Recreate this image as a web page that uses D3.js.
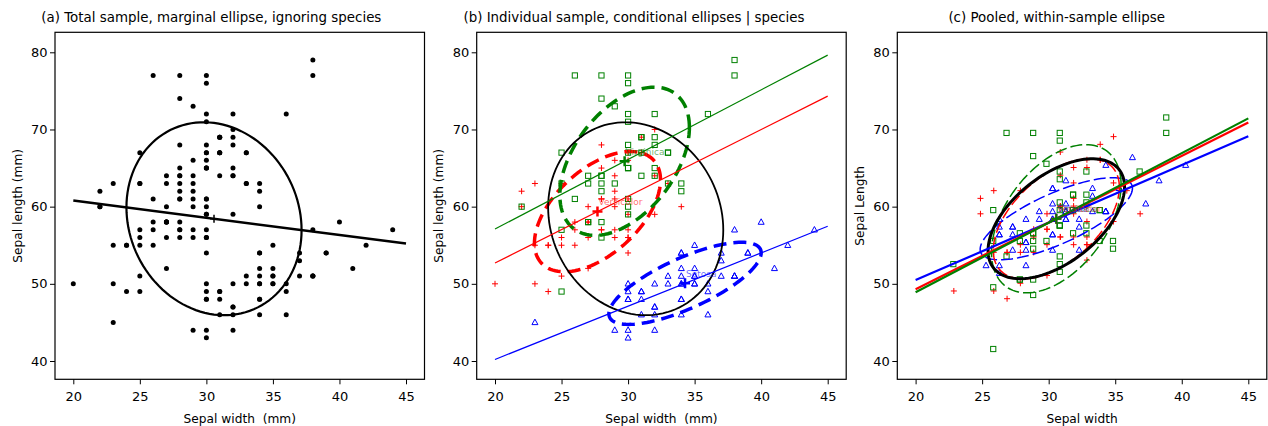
<!DOCTYPE html>
<html>
<head>
<meta charset="utf-8">
<script src="https://cdn.jsdelivr.net/npm/d3@7"></script>
<style>
  body { margin: 0; background: #fff; }
  svg { display: block; font-family: "DejaVu Sans", sans-serif; }
</style>
</head>
<body>
<div id="chart"></div>
<script>
// iris sepal measurements, in mm
var setosaLength = [51,49,47,46,50,54,46,50,44,49,54,48,48,43,58,57,54,51,57,51,54,51,46,51,48,50,50,52,52,47,48,54,52,55,49,50,55,49,44,51,50,45,44,50,51,48,51,46,53,50];
var setosaWidth  = [35,30,32,31,36,39,34,34,29,31,37,34,30,30,40,44,39,35,38,38,34,37,36,33,34,30,34,35,34,32,31,34,41,42,31,32,35,36,30,34,35,23,32,35,38,30,38,32,37,33];
var versicolorLength = [70,64,69,55,65,57,63,49,66,52,50,59,60,61,56,67,56,58,62,56,59,61,63,61,64,66,68,67,60,57,55,55,58,60,54,60,67,63,56,55,55,61,58,50,56,57,57,62,51,57];
var versicolorWidth  = [32,32,31,23,28,28,33,24,29,27,20,30,22,29,29,31,30,27,22,25,32,28,25,28,29,30,28,30,29,26,24,24,27,27,30,34,31,23,30,25,26,30,26,23,27,30,29,29,25,28];
var virginicaLength = [63,58,71,63,65,76,49,73,67,72,65,64,68,57,58,64,65,77,77,60,69,56,77,63,67,72,62,61,64,72,74,79,64,63,61,77,63,64,60,69,67,69,58,68,67,67,63,65,62,59];
var virginicaWidth  = [33,27,30,29,30,30,25,29,25,36,32,27,30,25,28,32,30,38,26,22,32,28,28,27,33,32,28,30,28,30,28,38,28,28,26,30,34,31,30,31,31,31,27,32,33,30,25,30,34,30];

var speciesNames = ["Setosa", "Versicolor", "Virginica"];
var speciesColors = ["#0000ff", "#ff0000", "#008000"];
var speciesShapes = ["triangle", "plus", "square"];

var xTicks = [20, 25, 30, 35, 40, 45];
var yTicks = [40, 50, 60, 70, 80];
var titles = [
  "(a) Total sample, marginal ellipse, ignoring species",
  "(b) Individual sample, conditional ellipses | species",
  "(c) Pooled, within-sample ellipse"
];
var xTitles = ["Sepal width  (mm)", "Sepal width  (mm)", "Sepal width"];
var yTitles = ["Sepal length (mm)", "Sepal length (mm)", "Sepal Length"];

var level = 0.68;
var radius = Math.sqrt(-2 * Math.log(1 - level));

var chartW = 1268, chartH = 426;
var frameLeft = [55, 476.7, 897.3];
var frameTop = 32.3, frameW = 369.5, frameH = 347;

var svg = d3.select("#chart").append("svg")
    .attr("width", chartW)
    .attr("height", chartH);

// ---- stats ----
function stats(xs, ys) {
  var n = xs.length;
  var mx = d3.mean(xs), my = d3.mean(ys);
  var sxx = 0, syy = 0, sxy = 0;
  for (var i = 0; i < n; i++) {
    sxx += (xs[i] - mx) * (xs[i] - mx);
    syy += (ys[i] - my) * (ys[i] - my);
    sxy += (xs[i] - mx) * (ys[i] - my);
  }
  return {n: n, mx: mx, my: my, ssx: sxx, ssy: syy, ssxy: sxy,
          sxx: sxx / (n - 1), syy: syy / (n - 1), sxy: sxy / (n - 1)};
}

var groups = [
  {x: setosaWidth, y: setosaLength},
  {x: versicolorWidth, y: versicolorLength},
  {x: virginicaWidth, y: virginicaLength}
];
groups.forEach(function(gr) { gr.s = stats(gr.x, gr.y); });

var allX = d3.merge(groups.map(function(gr) { return gr.x; }));
var allY = d3.merge(groups.map(function(gr) { return gr.y; }));
var total = stats(allX, allY);

// pooled within-group covariance
var nAll = allX.length;
var pooled = {
  mx: total.mx, my: total.my,
  sxx: d3.sum(groups, function(gr) { return gr.s.ssx; }) / (nAll - 3),
  syy: d3.sum(groups, function(gr) { return gr.s.ssy; }) / (nAll - 3),
  sxy: d3.sum(groups, function(gr) { return gr.s.ssxy; }) / (nAll - 3)
};

// centered data for panel (c); only points inside the x range are shown and fitted
groups.forEach(function(gr) {
  var pts = d3.zip(gr.x, gr.y).map(function(d) {
    return [d[0] - gr.s.mx + total.mx, d[1] - gr.s.my + total.my];
  }).filter(function(d) { return d[0] >= 20 && d[0] <= 45; });
  gr.centered = pts;
  gr.cs = stats(pts.map(function(d) { return d[0]; }), pts.map(function(d) { return d[1]; }));
});

function ellipsePoints(cx, cy, s) {
  var a = Math.sqrt(s.sxx);
  var b = s.sxy / a;
  var c = Math.sqrt(Math.max(s.syy - b * b, 0));
  return d3.range(0, 121).map(function(k) {
    var t = k / 120 * 2 * Math.PI;
    return [cx + radius * a * Math.cos(t),
            cy + radius * (b * Math.cos(t) + c * Math.sin(t))];
  });
}

// ---- drawing helpers ----
function marker(sel, shape, color) {
  if (shape === "square") {
    sel.append("rect").attr("x", -2.6).attr("y", -2.6).attr("width", 5.2).attr("height", 5.2)
      .attr("fill", "none").attr("stroke", color).attr("stroke-width", 1);
  } else if (shape === "triangle") {
    sel.append("path").attr("d", "M0,-3.3L3,2.2L-3,2.2Z")
      .attr("fill", "none").attr("stroke", color).attr("stroke-width", 1);
  } else {
    sel.append("path").attr("d", "M-3,0H3M0,-3V3")
      .attr("fill", "none").attr("stroke", color).attr("stroke-width", 1);
  }
}

function cross(sel, px, py, size, color, sw) {
  sel.append("path")
    .attr("d", "M" + (px - size) + "," + py + "H" + (px + size) + "M" + px + "," + (py - size) + "V" + (py + size))
    .attr("stroke", color).attr("stroke-width", sw).attr("fill", "none");
}

for (var p = 0; p < 3; p++) {
  var L = frameLeft[p];
  var xs = d3.scaleLinear().domain([20, 45]).range([L + 18.3, L + 351]);
  var ys = d3.scaleLinear().domain([40, 80]).range([361, 52.3]);
  var pg = svg.append("g");
  var segLine = d3.line()
      .x(function(d) { return xs(d[0]); })
      .y(function(d) { return ys(d[1]); });
  var ellLine = d3.line()
      .x(function(d) { return xs(d[0]); })
      .y(function(d) { return ys(d[1]); })
      .curve(d3.curveLinearClosed);

  // title
  svg.append("text")
    .attr("x", p * chartW / 3 + chartW / 6)
    .attr("y", 22)
    .attr("text-anchor", "middle")
    .attr("font-size", 13.4)
    .text(titles[p]);

  // axes
  var xAxis = pg.append("g")
    .attr("transform", "translate(0," + (frameTop + frameH) + ")")
    .call(d3.axisBottom(xs).tickValues(xTicks).tickSize(5).tickPadding(7));
  var yAxis = pg.append("g")
    .attr("transform", "translate(" + L + ",0)")
    .call(d3.axisLeft(ys).tickValues(yTicks).tickSize(5).tickPadding(2.5));
  [xAxis, yAxis].forEach(function(a) {
    a.attr("font-size", 13).attr("font-family", "DejaVu Sans, sans-serif");
    a.select(".domain").remove();
    a.selectAll("text").attr("fill", "#000");
    a.selectAll("line").attr("stroke", "#000");
  });

  pg.append("text")
    .attr("x", L + frameW / 2)
    .attr("y", 423)
    .attr("text-anchor", "middle")
    .attr("font-size", 12.2)
    .style("white-space", "pre")
    .text(xTitles[p]);

  pg.append("text")
    .attr("transform", "translate(" + (L - 33.5) + "," + (frameTop + frameH / 2) + ") rotate(-90)")
    .attr("text-anchor", "middle")
    .attr("font-size", 12.2)
    .text(yTitles[p]);

  if (p === 0) {
    // all points, black
    pg.selectAll("circle.pt")
      .data(d3.zip(allX, allY))
      .join("circle")
      .attr("class", "pt")
      .attr("cx", function(d) { return xs(d[0]); })
      .attr("cy", function(d) { return ys(d[1]); })
      .attr("r", 2.5)
      .attr("fill", "#000");

    pg.append("path")
      .attr("d", ellLine(ellipsePoints(total.mx, total.my, total)))
      .attr("fill", "none").attr("stroke", "#000").attr("stroke-width", 2.2);

    var slope = total.sxy / total.sxx;
    pg.append("path")
      .attr("d", segLine([20, 45].map(function(v) { return [v, total.my + slope * (v - total.mx)]; })))
      .attr("stroke", "#000").attr("stroke-width", 2.5).attr("fill", "none");

    cross(pg, xs(total.mx), ys(total.my), 4, "#000", 1.5);
  }

  if (p === 1) {
    groups.forEach(function(gr, k) {
      d3.zip(gr.x, gr.y).forEach(function(d) {
        marker(pg.append("g").attr("transform", "translate(" + xs(d[0]) + "," + ys(d[1]) + ")"),
               speciesShapes[k], speciesColors[k]);
      });
    });
    groups.forEach(function(gr, k) {
      pg.append("path")
        .attr("d", ellLine(ellipsePoints(gr.s.mx, gr.s.my, gr.s)))
        .attr("fill", "none").attr("stroke", speciesColors[k])
        .attr("stroke-width", 3.5).attr("stroke-dasharray", "13,7");
    });
    pg.append("path")
      .attr("d", ellLine(ellipsePoints(total.mx, total.my, total)))
      .attr("fill", "none").attr("stroke", "#000").attr("stroke-width", 1.8);
    groups.forEach(function(gr, k) {
      var b = gr.s.sxy / gr.s.sxx;
      pg.append("path")
        .attr("d", segLine([20, 45].map(function(v) { return [v, gr.s.my + b * (v - gr.s.mx)]; })))
        .attr("stroke", speciesColors[k]).attr("stroke-width", 1.2).attr("fill", "none");
    });
    groups.forEach(function(gr, k) {
      cross(pg, xs(gr.s.mx), ys(gr.s.my), 5, speciesColors[k], 2.5);
      pg.append("text")
        .attr("x", xs(gr.s.mx) + 1)
        .attr("y", ys(gr.s.my) - 6.5)
        .attr("font-size", 9)
        .attr("fill", speciesColors[k])
        .attr("fill-opacity", 0.6)
        .text(speciesNames[k]);
    });
  }

  if (p === 2) {
    groups.forEach(function(gr, k) {
      gr.centered.forEach(function(d) {
        marker(pg.append("g").attr("transform", "translate(" + xs(d[0]) + "," + ys(d[1]) + ")"),
               speciesShapes[k], speciesColors[k]);
      });
    });
    groups.forEach(function(gr, k) {
      pg.append("path")
        .attr("d", ellLine(ellipsePoints(total.mx, total.my, gr.s)))
        .attr("fill", "none").attr("stroke", speciesColors[k])
        .attr("stroke-width", 1.5).attr("stroke-dasharray", "12,4");
    });
    pg.append("path")
      .attr("d", ellLine(ellipsePoints(pooled.mx, pooled.my, pooled)))
      .attr("fill", "none").attr("stroke", "#000").attr("stroke-width", 3);
    groups.forEach(function(gr, k) {
      var b = gr.cs.sxy / gr.cs.sxx;
      pg.append("path")
        .attr("d", segLine([20, 45].map(function(v) { return [v, gr.cs.my + b * (v - gr.cs.mx)]; })))
        .attr("stroke", speciesColors[k]).attr("stroke-width", 2.2).attr("fill", "none");
    });
    groups.forEach(function(gr, k) {
      cross(pg, xs(total.mx), ys(total.my), 5, speciesColors[k], 2);
      pg.append("text")
        .attr("x", xs(total.mx) + 1)
        .attr("y", ys(total.my) - 6.5)
        .attr("font-size", 9)
        .attr("fill", speciesColors[k])
        .attr("fill-opacity", 0.6)
        .text(speciesNames[k]);
    });
  }

  // frame
  pg.append("rect")
    .attr("x", L).attr("y", frameTop)
    .attr("width", frameW).attr("height", frameH)
    .attr("fill", "none").attr("stroke", "#000").attr("stroke-width", 1.2);
}
</script>
</body>
</html>
